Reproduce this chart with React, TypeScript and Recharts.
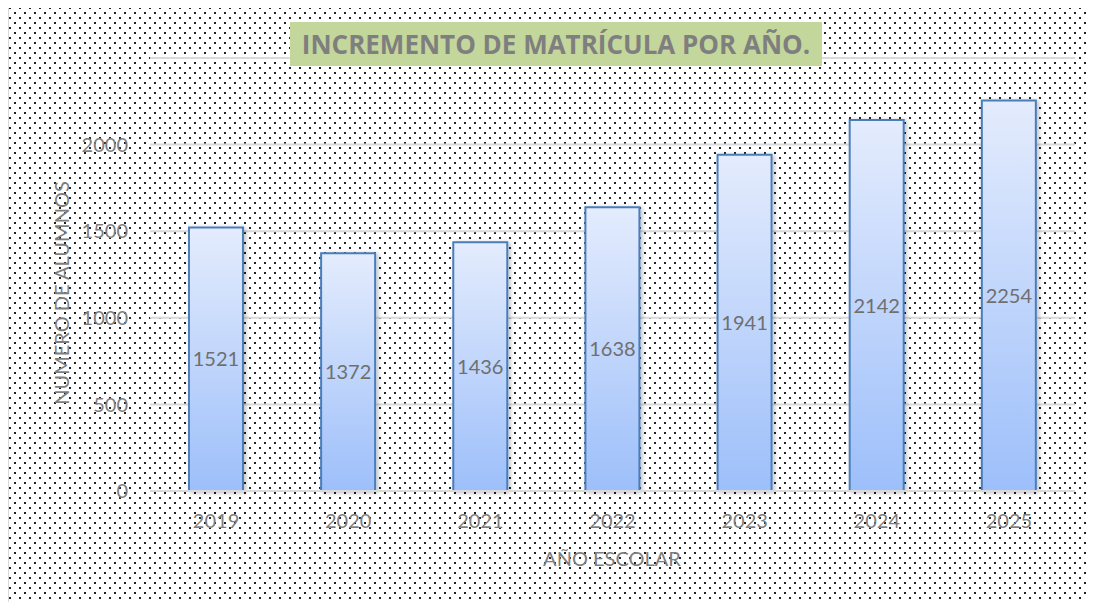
import React from "react";
import {
  BarChart,
  Bar,
  XAxis,
  YAxis,
  CartesianGrid,
  LabelList,
} from "recharts";

const years = ["2019", "2020", "2021", "2022", "2023", "2024", "2025"];
const alumnos = [1521, 1372, 1436, 1638, 1941, 2142, 2254];
const yTicks = [0, 500, 1000, 1500, 2000];

const data = years.map((year, i) => ({ year, alumnos: alumnos[i] }));

const labelFont = "Lato, 'Open Sans', sans-serif";
const gray = "#7f7f7f";

// crisp staggered dot pattern for the chart background
const dotSvg =
  "<svg xmlns='http://www.w3.org/2000/svg' width='10' height='10'>" +
  "<rect x='0' y='0' width='2' height='2' fill='%23222'/>" +
  "<rect x='5' y='5' width='2' height='2' fill='%23222'/></svg>";
const dots = `url("data:image/svg+xml;utf8,${dotSvg}")`;

const App: React.FC = () => {
  return (
    <div
      style={{
        position: "relative",
        width: 1096,
        height: 602,
        marginLeft: -8,
        marginTop: -8,
        background: "#fff",
        overflow: "hidden",
      }}
    >
      {/* dotted chart area */}
      <div
        style={{
          position: "absolute",
          left: 7,
          top: 5,
          right: 0,
          bottom: 0,
          backgroundImage: dots,
          backgroundColor: "#fff",
          borderLeft: "2px solid #d9d9d9",
          borderTop: "2px solid #d9d9d9",
        }}
      />
      <BarChart
        width={1096}
        height={602}
        data={data}
        margin={{ top: 58, right: 21, bottom: 81, left: 50 }}
        barCategoryGap="29.5%"
        style={{ position: "absolute", left: 0, top: 0 }}
      >
        <defs>
          <linearGradient id="barFill" x1="0" y1="0" x2="0" y2="1">
            <stop offset="0%" stopColor="#e4ecfd" />
            <stop offset="100%" stopColor="#9dbffa" />
          </linearGradient>
          <filter id="barShadow" x="-20%" y="-5%" width="140%" height="110%">
            <feDropShadow dx="2" dy="1" stdDeviation="2" floodColor="#000" floodOpacity="0.25" />
          </filter>
        </defs>
        <CartesianGrid vertical={false} stroke="#d9d9d9" strokeWidth={2} />
        <XAxis
          dataKey="year"
          axisLine={{ stroke: "#d9d9d9", strokeWidth: 2 }}
          tickLine={false}
          tickSize={0}
          tickMargin={23}
          tick={{ fill: gray, fontSize: 20, fontFamily: labelFont }}
        />
        <YAxis
          width={100}
          domain={[0, 2500]}
          ticks={yTicks}
          axisLine={false}
          tickLine={false}
          tickSize={0}
          tickMargin={22}
          tick={{ fill: gray, fontSize: 20, fontFamily: labelFont }}
        />
        <Bar
          dataKey="alumnos"
          fill="url(#barFill)"
          stroke="#4a7ebb"
          strokeWidth={2}
          style={{ filter: "url(#barShadow)" }}
          isAnimationActive={false}
        >
          <LabelList
            dataKey="alumnos"
            position="center"
            fill="#6f6f6f"
            fontSize={20}
            fontFamily={labelFont}
          />
        </Bar>
      </BarChart>
      {/* title */}
      <div
        style={{
          position: "absolute",
          left: 290,
          top: 22,
          width: 532,
          height: 44,
          background: "#c3d69b",
          color: gray,
          fontFamily: "'Open Sans', 'Noto Sans', sans-serif",
          fontWeight: 700,
          fontSize: 26,
          lineHeight: "44px",
          textAlign: "center",
          whiteSpace: "nowrap",
        }}
      >
        INCREMENTO DE MATRÍCULA POR AÑO.
      </div>
      {/* y axis title */}
      <div
        style={{
          position: "absolute",
          left: 61,
          top: 293,
          transform: "translate(-50%, -50%) rotate(-90deg)",
          color: gray,
          fontFamily: labelFont,
          fontSize: 20,
          whiteSpace: "nowrap",
        }}
      >
        NUMERO DE ALUMNOS
      </div>
      {/* x axis title */}
      <div
        style={{
          position: "absolute",
          left: 612,
          top: 558,
          transform: "translate(-50%, -50%)",
          color: gray,
          fontFamily: labelFont,
          fontSize: 20,
          whiteSpace: "nowrap",
        }}
      >
        AÑO ESCOLAR
      </div>
    </div>
  );
};

export default App;
